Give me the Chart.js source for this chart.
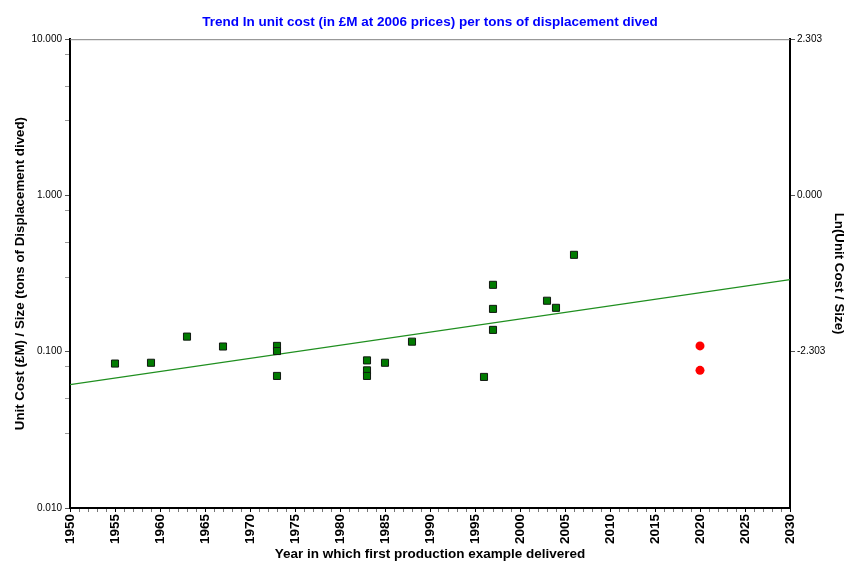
<!DOCTYPE html>
<html>
<head>
<meta charset="utf-8">
<script src="https://cdn.jsdelivr.net/npm/chart.js@4"></script>
<style>
  html, body { margin: 0; padding: 0; background: #fff; }
  #wrap { width: 845px; height: 561px; }
</style>
</head>
<body>
<div id="wrap"><canvas id="myChart" width="845" height="561"></canvas></div>
<script>
// first production year and unit cost / size (GBP M per ton dived)
const years = [1955, 1959, 1963, 1967, 1973, 1973, 1973, 1983, 1983, 1983, 1985, 1988, 1996, 1997, 1997, 1997, 2003, 2004, 2006];
const costs = [0.084, 0.085, 0.125, 0.108, 0.109, 0.101, 0.070, 0.088, 0.076, 0.070, 0.085, 0.116, 0.069, 0.268, 0.188, 0.138, 0.212, 0.191, 0.417];

// projected boats
const projYears = [2020, 2020];
const projCosts = [0.109, 0.076];

// fitted trend line end points
const trendYears = [1950, 2030];
const trendCosts = [0.0615, 0.289];

const leftTicks = [0.01, 0.03, 0.05, 0.08, 0.1, 0.3, 0.5, 0.8, 1, 3, 5, 8, 10];
const rightTicks = [-Math.LN10, 0, Math.LN10];

const font = "'Liberation Sans', Arial, sans-serif";
const toPts = (xs, ys) => xs.map((x, i) => ({ x: x, y: ys[i] }));
const isDecade = v => Math.abs(Math.log10(v) - Math.round(Math.log10(v))) < 1e-9;

const topLine = {
    id: 'topLine',
    afterDraw(chart) {
        const a = chart.chartArea;
        const c = chart.ctx;
        c.save();
        c.strokeStyle = '#808080';
        c.lineWidth = 1;
        c.beginPath();
        c.moveTo(a.left, a.top + 0.5);
        c.lineTo(a.right, a.top + 0.5);
        c.stroke();
        c.restore();
    }
};

const ctx = document.getElementById('myChart').getContext('2d');
const myChart = new Chart(ctx, {
    type: 'scatter',
    data: {
        datasets: [{
            label: 'Trend',
            data: toPts(trendYears, trendCosts),
            showLine: true,
            borderColor: '#1f8f1f',
            borderWidth: 1.2,
            pointRadius: 0,
            yAxisID: 'y',
            order: 3
        }, {
            label: 'Projected',
            data: toPts(projYears, projCosts),
            pointStyle: 'circle',
            pointRadius: 4.5,
            backgroundColor: '#ff0000',
            borderColor: '#ff0000',
            borderWidth: 0,
            yAxisID: 'y',
            order: 2
        }, {
            label: 'Actual',
            data: toPts(years, costs),
            pointStyle: 'rect',
            pointRadius: 5,
            backgroundColor: '#007a00',
            borderColor: '#101810',
            borderWidth: 1,
            yAxisID: 'y',
            order: 1
        }]
    },
    options: {
        responsive: false,
        animation: false,
        layout: { padding: 0 },
        plugins: {
            legend: { display: false },
            tooltip: { enabled: false },
            title: {
                display: true,
                fullSize: false,
                text: 'Trend In unit cost (in £M at 2006 prices) per tons of displacement dived',
                color: '#0000ff',
                font: { family: font, size: 13.5, weight: 'bold', lineHeight: 1.2 },
                padding: { top: 14, bottom: 9 }
            }
        },
        scales: {
            x: {
                type: 'linear',
                position: 'bottom',
                min: 1950,
                max: 2030,
                afterFit: s => { s.height = 53; },
                ticks: {
                    stepSize: 1,
                    autoSkip: false,
                    minRotation: 90,
                    maxRotation: 90,
                    padding: 2,
                    color: '#000',
                    font: { family: font, size: 13.5, weight: 'bold' },
                    callback: v => (v % 5 === 0 ? String(v) : '')
                },
                grid: {
                    drawOnChartArea: false,
                    tickLength: 4,
                    color: c => (c.tick && c.tick.value % 5 === 0 ? '#000' : '#777')
                },
                border: { display: true, color: '#000', width: 2 },
                title: {
                    display: true,
                    text: 'Year in which first production example delivered',
                    color: '#000',
                    font: { family: font, size: 13.5, weight: 'bold', lineHeight: 1 },
                    padding: { top: 0, bottom: 0 }
                }
            },
            y: {
                type: 'logarithmic',
                position: 'left',
                min: 0.01,
                max: 10,
                afterFit: s => { s.width = 70; },
                afterBuildTicks: s => { s.ticks = leftTicks.map(v => ({ value: v })); },
                ticks: {
                    autoSkip: false,
                    padding: 3,
                    color: '#000',
                    font: { family: font, size: 10 },
                    callback: v => (isDecade(v) ? v.toFixed(3) : '')
                },
                grid: {
                    drawOnChartArea: false,
                    tickLength: 5,
                    color: c => (c.tick && isDecade(c.tick.value) ? '#555' : '#999')
                },
                border: { display: true, color: '#000', width: 2 },
                title: {
                    display: true,
                    text: 'Unit Cost (£M) / Size (tons of Displacement dived)',
                    color: '#000',
                    font: { family: font, size: 13.3, weight: 'bold', lineHeight: 1 },
                    padding: { top: 14, bottom: 0 }
                }
            },
            yLn: {
                type: 'linear',
                position: 'right',
                display: true,
                min: Math.log(0.01),
                max: Math.log(10),
                afterFit: s => { s.width = 55; },
                afterBuildTicks: s => { s.ticks = rightTicks.map(v => ({ value: v })); },
                ticks: {
                    autoSkip: false,
                    padding: 2,
                    color: '#000',
                    font: { family: font, size: 10 },
                    callback: v => v.toFixed(3)
                },
                grid: {
                    drawOnChartArea: false,
                    tickLength: 5,
                    color: '#555'
                },
                border: { display: true, color: '#000', width: 2 },
                title: {
                    display: true,
                    text: 'Ln(Unit Cost / Size)',
                    color: '#000',
                    font: { family: font, size: 13.3, weight: 'bold', lineHeight: 1 },
                    padding: { top: 0, bottom: 0 }
                }
            }
        }
    },
    plugins: [topLine]
});
</script>
</body>
</html>
